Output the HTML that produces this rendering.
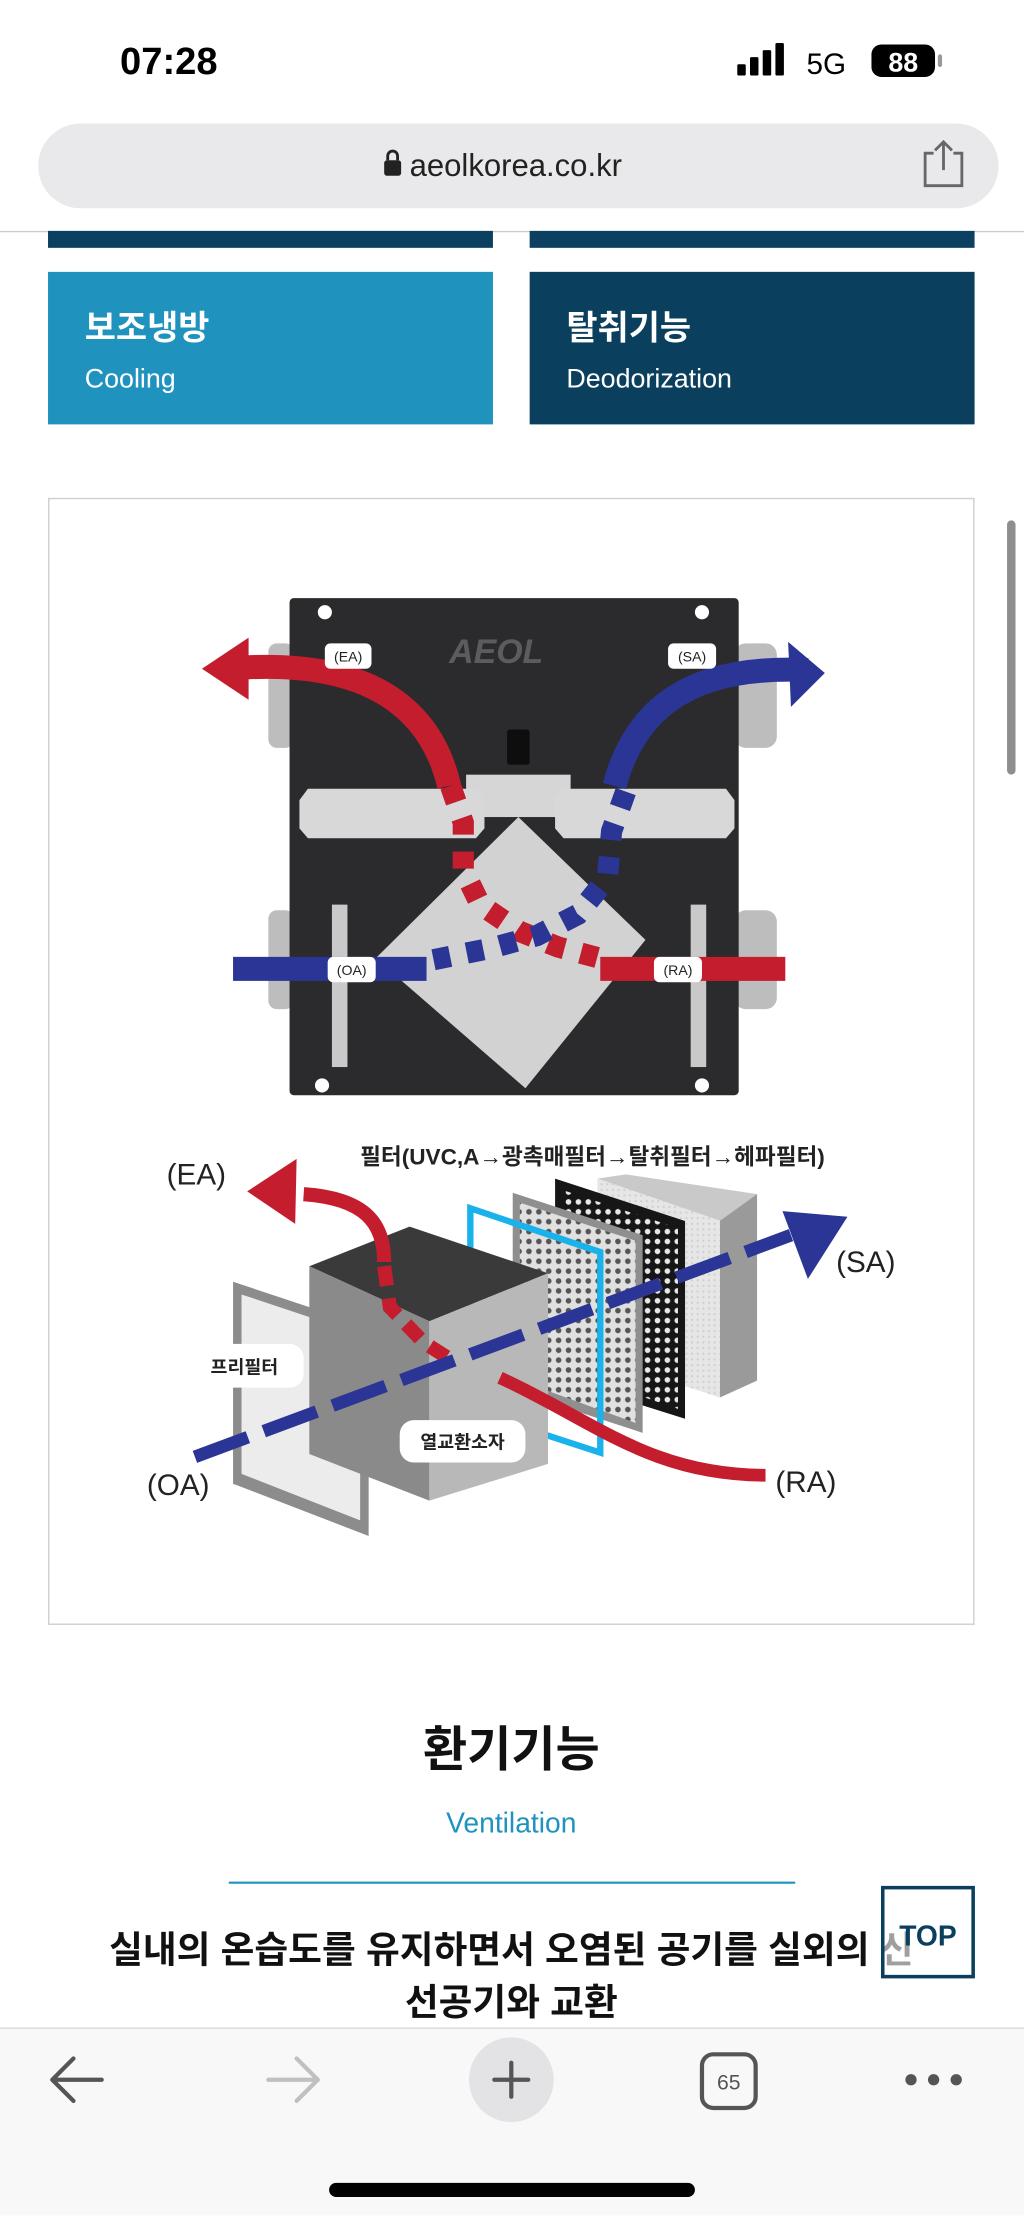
<!DOCTYPE html>
<html><head><meta charset="utf-8">
<style>
html,body{margin:0;padding:0;background:#fff;}
svg{display:block;}
text{font-family:"Liberation Sans","Noto Sans CJK KR",sans-serif;}
</style></head>
<body>
<svg width="1024" height="2216" viewBox="0 0 725 1568" xmlns="http://www.w3.org/2000/svg">
<defs>
<pattern id="dw" width="7" height="7" patternUnits="userSpaceOnUse"><circle cx="3.5" cy="3.5" r="2" fill="#e8e8e8"/></pattern>
<pattern id="dk" width="7" height="7" patternUnits="userSpaceOnUse"><circle cx="3.5" cy="3.5" r="2" fill="#555"/></pattern>
<pattern id="dl" width="4" height="4" patternUnits="userSpaceOnUse"><circle cx="2" cy="2" r="0.8" fill="#cfcfcf"/></pattern>
</defs>
<rect width="725" height="1568" fill="#fff"/>
<!-- status bar -->
<text x="85" y="52" font-size="27" font-weight="bold" fill="#000">07:28</text>
<rect x="522" y="45" width="6" height="8" rx="1" fill="#000"/>
<rect x="531" y="40" width="6" height="13" rx="1" fill="#000"/>
<rect x="540" y="35" width="6" height="18" rx="1" fill="#000"/>
<rect x="549" y="30" width="6" height="23" rx="1" fill="#000"/>
<text x="571" y="52" font-size="21" fill="#000">5G</text>
<rect x="617" y="31" width="45" height="23" rx="7" fill="#000"/>
<text x="639.5" y="50" font-size="19" font-weight="bold" fill="#fff" text-anchor="middle">88</text>
<rect x="664" y="38" width="3" height="9" rx="1.5" fill="#999"/>
<!-- url bar -->
<rect x="27" y="87" width="680" height="60" rx="30" fill="#e9e9eb"/>
<rect x="272" y="113" width="12" height="11" rx="2" fill="#222"/>
<path d="M274.5,113 v-3 a3.5,3.5 0 0 1 7,0 v3" stroke="#222" stroke-width="2" fill="none"/>
<text x="290" y="124" font-size="22" fill="#222">aeolkorea.co.kr</text>
<path d="M661,108 h-6 v23 h26 v-23 h-6 M668,120 v-19 M662,106 l6,-6 l6,6" stroke="#666" stroke-width="2" fill="none"/>
<line x1="0" y1="163.5" x2="725" y2="163.5" stroke="#ccc" stroke-width="1"/>
<!-- top cards -->
<rect x="34" y="163" width="315" height="12" fill="#0b4060"/>
<rect x="375" y="163" width="315" height="12" fill="#0b4060"/>
<rect x="34" y="192" width="315" height="108" fill="#1f93be"/>
<text x="60" y="240" font-size="24" font-weight="bold" fill="#fff">보조냉방</text>
<text x="60" y="274" font-size="19" fill="#fff">Cooling</text>
<rect x="375" y="192" width="315" height="108" fill="#0b3f5e"/>
<text x="401" y="240" font-size="24" font-weight="bold" fill="#fff">탈취기능</text>
<text x="401" y="274" font-size="19" fill="#fff">Deodorization</text>
<!-- image frame -->
<rect x="34.5" y="352.5" width="655" height="797" fill="#fff" stroke="#cfcfcf" stroke-width="1"/>
<!-- device top diagram -->
<rect x="190" y="455" width="18" height="74" rx="6" fill="#bdbdbd"/>
<rect x="190" y="644" width="18" height="70" rx="6" fill="#bdbdbd"/>
<rect x="520" y="455" width="30" height="74" rx="8" fill="#bdbdbd"/>
<rect x="520" y="644" width="30" height="70" rx="8" fill="#bdbdbd"/>
<rect x="205" y="423" width="318" height="352" rx="3" fill="#2b2b2d"/>
<circle cx="230" cy="433" r="5" fill="#fff"/><circle cx="497" cy="433" r="5" fill="#fff"/>
<circle cx="228" cy="768" r="5" fill="#fff"/><circle cx="497" cy="768" r="5" fill="#fff"/>
<text x="318" y="469" font-size="24" font-style="italic" font-weight="bold" fill="#5c5c5e">AEOL</text>
<rect x="359" y="516" width="16" height="25" rx="2" fill="#0e0e0e"/>
<rect x="235" y="640" width="11" height="115" fill="#c9c9c9"/>
<rect x="489" y="640" width="11" height="115" fill="#c9c9c9"/>
<rect x="330" y="548" width="74" height="30" fill="#d6d6d6"/>
<polygon points="218,558 337,558 343,566 343,586 337,593 218,593 212,586 212,566" fill="#d8d8d8"/>
<polygon points="399,558 514,558 520,566 520,586 514,593 399,593 393,586 393,566" fill="#d8d8d8"/>
<polygon points="367,578 457,665 372,770 266,678" fill="#d2d2d2"/>
<!-- EA red arrow -->
<path d="M318,556 C305,500 260,468 175,472" stroke="#c41e2e" stroke-width="17" fill="none"/>
<polygon points="143,473 176,451 176,495" fill="#c41e2e"/>
<!-- SA blue arrow -->
<path d="M435,556 C450,500 490,470 572,474" stroke="#2a3595" stroke-width="17" fill="none"/>
<polygon points="584,476 558,454 560,500" fill="#2a3595"/>
<!-- bars -->
<rect x="165" y="677" width="137" height="17" fill="#2a3595"/>
<rect x="425" y="677" width="131" height="17" fill="#c41e2e"/>
<path d="M319,556 L328,582 L328,615 L340,640 L368,659 L395,670 L425,678" stroke="#c41e2e" stroke-width="15" fill="none" stroke-dasharray="12,12"/>
<path d="M443,560 L433,588 L430,621 L409,647 L380,662 L347,671 L302,680" stroke="#2a3595" stroke-width="15" fill="none" stroke-dasharray="12,12"/>
<rect x="230" y="455" width="33" height="18" rx="4" fill="#fff"/><text x="246.5" y="468" font-size="10" text-anchor="middle" fill="#222">(EA)</text>
<rect x="473" y="455" width="34" height="18" rx="4" fill="#fff"/><text x="490" y="468" font-size="10" text-anchor="middle" fill="#222">(SA)</text>
<rect x="232" y="677" width="34" height="18" rx="4" fill="#fff"/><text x="249" y="690" font-size="10" text-anchor="middle" fill="#222">(OA)</text>
<rect x="463" y="677" width="34" height="18" rx="4" fill="#fff"/><text x="480" y="690" font-size="10" text-anchor="middle" fill="#222">(RA)</text>
<!-- bottom diagram -->
<text x="118" y="838" font-size="21" fill="#222">(EA)</text>
<text x="255" y="824" font-size="16" font-weight="bold" fill="#222">필터(UVC,A→광촉매필터→탈취필터→헤파필터)</text>
<polygon points="423,834 443,831 536,845 509.7,863.8" fill="#c9c9c9"/>
<polygon points="509.7,863.8 536,845 536,977 509.7,989" fill="#9a9a9a"/>
<polygon points="423,834 509.7,863.8 509.7,989 423,960.5" fill="#e6e6e6"/>
<polygon points="423,834 509.7,863.8 509.7,989 423,960.5" fill="url(#dl)"/>
<polygon points="393,834 485,864 485,1004 393,975" fill="#161616"/>
<polygon points="398,842 480,869 480,997 398,969" fill="url(#dw)"/>
<polygon points="363,844 455,874 455,1014 363,984" fill="#8f8f8f"/>
<polygon points="368,851 450,878 450,1007 368,977" fill="#e0e0e0"/>
<polygon points="368,851 450,878 450,1007 368,977" fill="url(#dk)"/>
<polygon points="333,855 425,886 425,1028 333,998" fill="none" stroke="#1ab2ea" stroke-width="4.5"/>
<polygon points="165,907 261,939 261,1087 165,1050" fill="#8c8c8c"/>
<polygon points="171,916 255,944 255,1076 171,1043" fill="#ececec"/>
<polygon points="219,896 290,868 388,901 304,935" fill="#3a3a3a"/>
<polygon points="219,896 304,935 304,1062 219,1029" fill="#8a8a8a"/>
<polygon points="304,935 388,901 388,1036 304,1062" fill="#b8b8b8"/>
<path d="M354,975 C420,1005 460,1044 542,1044" stroke="#c41e2e" stroke-width="9" fill="none"/>
<path d="M272,893 C272,865 258,848 215,845" stroke="#c41e2e" stroke-width="10" fill="none"/>
<polygon points="175,843 210,820 209,866" fill="#c41e2e"/>
<path d="M272,896 L276,925 L300,950 L322,964" stroke="#c41e2e" stroke-width="10" fill="none" stroke-dasharray="14,9"/>
<path d="M138,1031 L560,874" stroke="#2a3595" stroke-width="9" fill="none" stroke-dasharray="40,12"/>
<polygon points="554,857 600,861 572,905" fill="#2a3595"/>
<text x="592" y="900" font-size="21" fill="#222">(SA)</text>
<rect x="131" y="951" width="84" height="31" rx="10" fill="#fff"/>
<text x="173" y="972" font-size="13" font-weight="bold" text-anchor="middle" fill="#222">프리필터</text>
<rect x="283" y="1005" width="89" height="30" rx="10" fill="#fff"/>
<text x="327.5" y="1025" font-size="13" font-weight="bold" text-anchor="middle" fill="#222">열교환소자</text>
<text x="104" y="1058" font-size="21" fill="#222">(OA)</text>
<text x="549" y="1056" font-size="21" fill="#222">(RA)</text>
<!-- scrollbar -->
<rect x="713" y="368" width="6" height="180" rx="3" fill="#8e8e8e"/>
<!-- section -->
<text x="362" y="1250" font-size="34" font-weight="bold" text-anchor="middle" fill="#111">환기기능</text>
<text x="362" y="1297" font-size="20" text-anchor="middle" fill="#1f93be">Ventilation</text>
<line x1="162" y1="1332.5" x2="563" y2="1332.5" stroke="#1f93be" stroke-width="1.5"/>
<text x="362" y="1389" font-size="26" font-weight="bold" text-anchor="middle" fill="#111">실내의 온습도를 유지하면서 오염된 공기를 실외의 신</text>
<text x="362" y="1426" font-size="26" font-weight="bold" text-anchor="middle" fill="#111">선공기와 교환</text>
<rect x="625" y="1336" width="64" height="63" fill="rgba(255,255,255,0.6)" stroke="#0b3f5e" stroke-width="2.5"/>
<text x="657" y="1377" font-size="20" font-weight="bold" text-anchor="middle" fill="#0b3f5e">TOP</text>
<!-- bottom toolbar -->
<rect x="0" y="1435" width="725" height="133" fill="#f8f8f8"/>
<line x1="0" y1="1435.5" x2="725" y2="1435.5" stroke="#d8d8d8"/>
<path d="M72,1472 H37 M52,1457 L37,1472 L52,1487" stroke="#555" stroke-width="3" fill="none" stroke-linecap="round" stroke-linejoin="round"/>
<path d="M190,1472 H225 M210,1457 L225,1472 L210,1487" stroke="#c0c0c0" stroke-width="3" fill="none" stroke-linecap="round" stroke-linejoin="round"/>
<circle cx="362" cy="1472" r="30" fill="#e3e3e5"/>
<path d="M362,1460 V1484 M350,1472 H374" stroke="#555" stroke-width="3" stroke-linecap="round"/>
<rect x="497" y="1454" width="38" height="38" rx="8" fill="none" stroke="#555" stroke-width="3"/>
<text x="516" y="1479" font-size="15" text-anchor="middle" fill="#555">65</text>
<circle cx="645" cy="1472" r="4" fill="#555"/><circle cx="661" cy="1472" r="4" fill="#555"/><circle cx="677" cy="1472" r="4" fill="#555"/>
<rect x="233" y="1545" width="259" height="10" rx="5" fill="#000"/>
</svg>
</body></html>
